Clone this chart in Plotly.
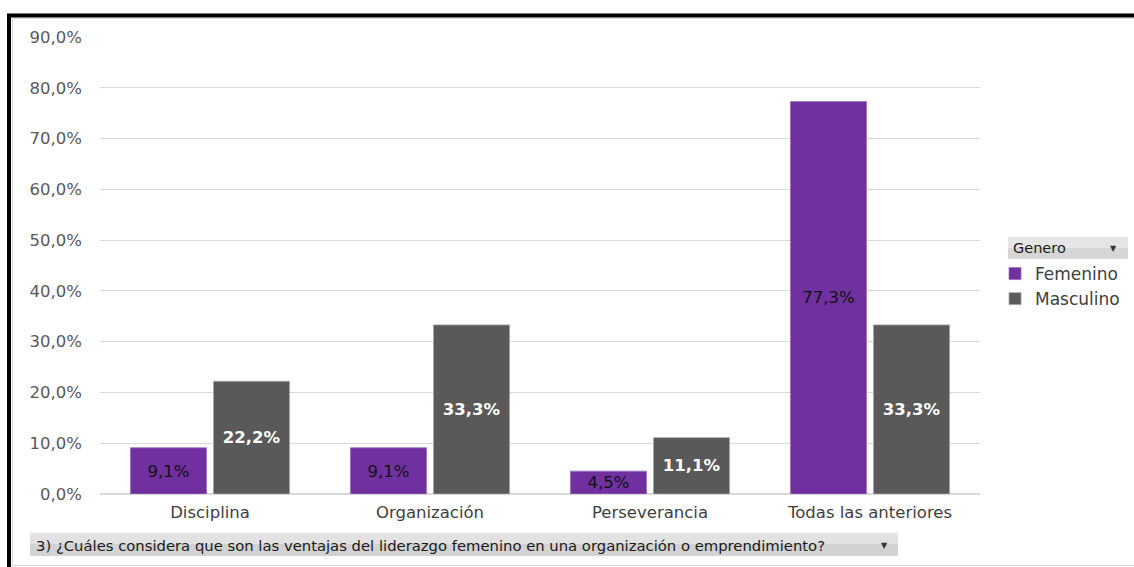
import plotly.graph_objects as go

categories = ["Disciplina", "Organización", "Perseverancia", "Todas las anteriores"]
femenino = [0.091, 0.091, 0.045, 0.773]
masculino = [0.222, 0.333, 0.111, 0.333]
series_names = ["Femenino", "Masculino"]
y_ticks = [0, 0.1, 0.2, 0.3, 0.4, 0.5, 0.6, 0.7, 0.8, 0.9]
question = "3) ¿Cuáles considera que son las ventajas del liderazgo femenino en una organización o emprendimiento?"
legend_title = "Genero"

W, H = 1134, 567
def px(x):
    return x / W
def py(y):
    return 1 - y / H

FONT = "DejaVu Sans"

fig = go.Figure()
fig.add_trace(go.Bar(
    x=categories, y=femenino, name=series_names[0],
    marker=dict(color="#7030A0", line=dict(color="#9a70bb", width=0.8)),
    texttemplate="%{y:.1%}", textposition="inside", insidetextanchor="middle",
    textfont=dict(family=FONT, size=17.5, color="#111111"),
    textangle=0, constraintext="none",
))
fig.add_trace(go.Bar(
    x=categories, y=masculino, name=series_names[1],
    marker=dict(color="#595959", line=dict(color="#a6a6a6", width=0.8)),
    texttemplate="<b>%{y:.1%}</b>", textposition="inside", insidetextanchor="middle",
    textfont=dict(family=FONT, size=16.5, color="#ffffff"),
    textangle=0, constraintext="none",
))

shapes = [
    dict(type="rect", xref="paper", yref="paper", x0=px(1008), x1=px(1128), y0=py(259), y1=py(237),
         fillcolor="#d6d6d6", line=dict(width=0), layer="below"),
    dict(type="rect", xref="paper", yref="paper", x0=px(1008), x1=px(1128), y0=py(248), y1=py(237),
         fillcolor="#e6e6e6", line=dict(width=0), layer="below"),
    dict(type="rect", xref="paper", yref="paper", x0=px(30), x1=px(898), y0=py(556), y1=py(533),
         fillcolor="#d2d2d2", line=dict(width=0), layer="below"),
    dict(type="rect", xref="paper", yref="paper", x0=px(30), x1=px(898), y0=py(544), y1=py(533),
         fillcolor="#e2e2e2", line=dict(width=0), layer="below"),
    dict(type="line", xref="paper", yref="paper", x0=px(7), x1=px(1134), y0=py(15.5), y1=py(15.5),
         line=dict(color="#000000", width=4)),
    dict(type="line", xref="paper", yref="paper", x0=px(9), x1=px(9), y0=py(14), y1=py(567),
         line=dict(color="#000000", width=4)),
    dict(type="line", xref="paper", yref="paper", x0=px(12), x1=px(1134), y0=py(18.5), y1=py(18.5),
         line=dict(color="#d9d9d9", width=1)),
    dict(type="line", xref="paper", yref="paper", x0=px(12.5), x1=px(12.5), y0=py(18), y1=py(565),
         line=dict(color="#d9d9d9", width=1)),
    dict(type="line", xref="paper", yref="paper", x0=px(12), x1=px(1134), y0=py(565.5), y1=py(565.5),
         line=dict(color="#d9d9d9", width=1)),
]

annotations = [
    dict(text=legend_title, xref="paper", yref="paper", x=px(1011), y=py(248), xanchor="left", yanchor="middle",
         showarrow=False, font=dict(family=FONT, size=14.5, color="#1a1a1a")),
    dict(text="▼", xref="paper", yref="paper", x=px(1113), y=py(248), xanchor="center", yanchor="middle",
         showarrow=False, font=dict(family=FONT, size=8, color="#333333")),
    dict(text=question, xref="paper", yref="paper", x=px(34), y=py(545), xanchor="left", yanchor="middle",
         showarrow=False, font=dict(family=FONT, size=14.8, color="#1a1a1a")),
    dict(text="▼", xref="paper", yref="paper", x=px(884), y=py(545), xanchor="center", yanchor="middle",
         showarrow=False, font=dict(family=FONT, size=8, color="#333333")),
]

fig.update_layout(
    width=W, height=H, autosize=False,
    margin=dict(l=0, r=0, t=0, b=0, pad=0, autoexpand=False),
    paper_bgcolor="white", plot_bgcolor="white",
    separators=",.",
    barmode="group", bargap=0.245, bargroupgap=0.084,
    uniformtext=dict(minsize=16.5, mode="show"),
    showlegend=True,
    legend=dict(x=px(995), y=py(256), xanchor="left", yanchor="top",
                font=dict(family=FONT, size=17, color="#404040"),
                bgcolor="rgba(0,0,0,0)", itemclick=False, tracegroupgap=0),
    shapes=shapes, annotations=annotations,
    xaxis=dict(domain=[px(100), px(980)], showline=False, showgrid=False, automargin=False,
               tickfont=dict(family=FONT, size=16.5, color="#404040"),
               ticks="", ticklabelstandoff=6),
    yaxis=dict(domain=[py(494), py(37)], range=[0, 0.9], tickvals=y_ticks, tickformat=".1%",
               showgrid=True, gridcolor="#d9d9d9", gridwidth=1, zeroline=True, zerolinecolor="#d9d9d9",
               zerolinewidth=1.5, showline=False, ticks="", automargin=False,
               tickfont=dict(family=FONT, size=16.5, color="#595959"),
               ticklabelstandoff=17),
)

fig.write_html("out.html", config={"responsive": False, "displayModeBar": False},
               post_script="document.body.style.margin='0';document.body.style.overflow='hidden';")
